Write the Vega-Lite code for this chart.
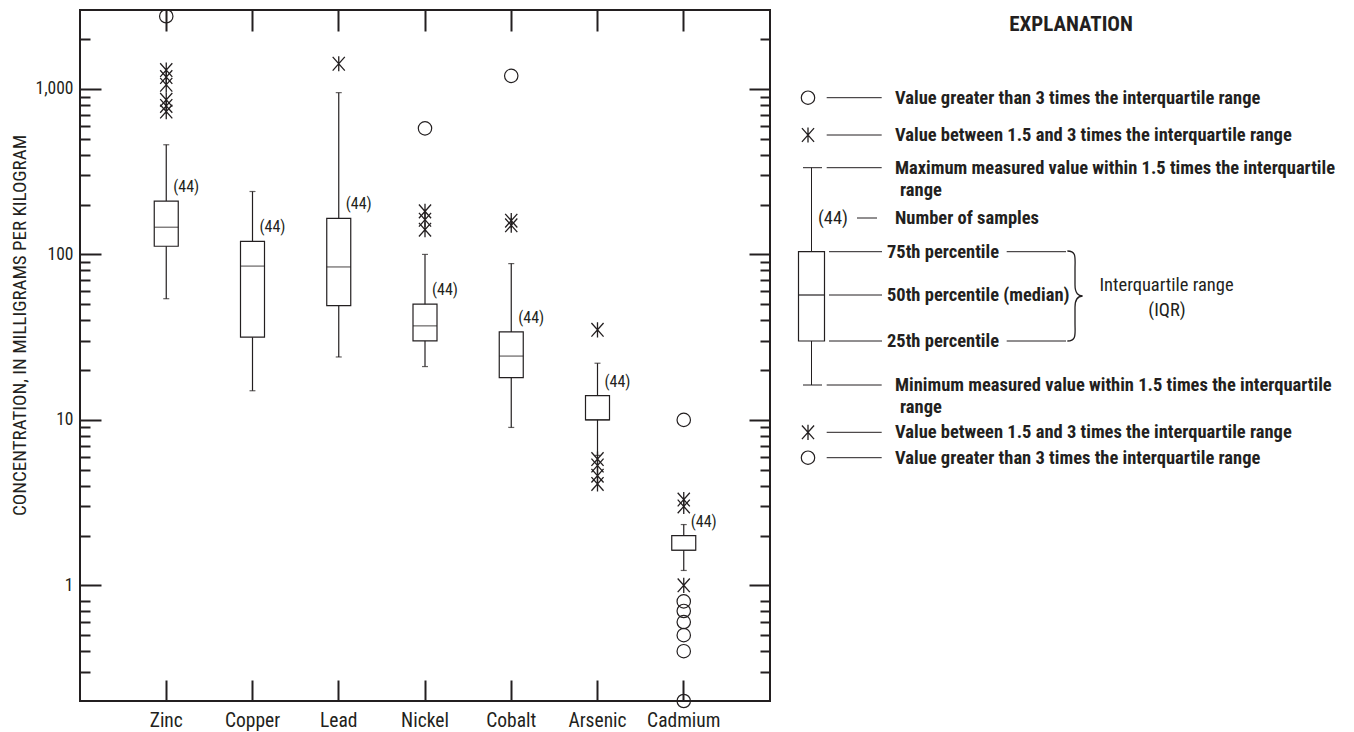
{
  "$schema": "https://vega.github.io/schema/vega-lite/v6.json",
  "width": 690,
  "height": 691,
  "autosize": "none",
  "padding": {"left": 80, "top": 10, "right": 584, "bottom": 31},
  "background": "white",
  "config": {
    "view": {"stroke": "#231f20", "strokeWidth": 2},
    "font": "Liberation Sans Narrow, Roboto Condensed, Arial Narrow, sans-serif"
  },
  "datasets": {
    "boxes": [
      {"metal": "Zinc", "lo": 54, "q1": 112, "med": 146, "q3": 210, "hi": 460, "n": "(44)"},
      {"metal": "Copper", "lo": 15, "q1": 31.6, "med": 85, "q3": 120, "hi": 240, "n": "(44)"},
      {"metal": "Lead", "lo": 24, "q1": 49, "med": 84, "q3": 165, "hi": 950, "n": "(44)"},
      {"metal": "Nickel", "lo": 21, "q1": 30, "med": 37, "q3": 50, "hi": 100, "n": "(44)"},
      {"metal": "Cobalt", "lo": 9, "q1": 18, "med": 24.3, "q3": 34, "hi": 88, "n": "(44)"},
      {"metal": "Arsenic", "lo": 6.1, "q1": 10, "med": 10, "q3": 14, "hi": 22, "n": "(44)"},
      {"metal": "Cadmium", "lo": 1.23, "q1": 1.63, "med": 1.63, "q3": 2.0, "hi": 2.33, "n": "(44)"}
    ],
    "outliers": [
      {"metal": "Zinc", "value": 2750, "kind": "far"},
      {"metal": "Zinc", "value": 1300, "kind": "near"},
      {"metal": "Zinc", "value": 1180, "kind": "near"},
      {"metal": "Zinc", "value": 1060, "kind": "near"},
      {"metal": "Zinc", "value": 860, "kind": "near"},
      {"metal": "Zinc", "value": 790, "kind": "near"},
      {"metal": "Zinc", "value": 730, "kind": "near"},
      {"metal": "Lead", "value": 1420, "kind": "near"},
      {"metal": "Nickel", "value": 578, "kind": "far"},
      {"metal": "Nickel", "value": 182, "kind": "near"},
      {"metal": "Nickel", "value": 162, "kind": "near"},
      {"metal": "Nickel", "value": 141, "kind": "near"},
      {"metal": "Cobalt", "value": 1200, "kind": "far"},
      {"metal": "Cobalt", "value": 160, "kind": "near"},
      {"metal": "Cobalt", "value": 150, "kind": "near"},
      {"metal": "Arsenic", "value": 35, "kind": "near"},
      {"metal": "Arsenic", "value": 5.8, "kind": "near"},
      {"metal": "Arsenic", "value": 5.3, "kind": "near"},
      {"metal": "Arsenic", "value": 4.6, "kind": "near"},
      {"metal": "Arsenic", "value": 4.1, "kind": "near"},
      {"metal": "Cadmium", "value": 10, "kind": "far"},
      {"metal": "Cadmium", "value": 3.3, "kind": "near"},
      {"metal": "Cadmium", "value": 3.0, "kind": "near"},
      {"metal": "Cadmium", "value": 1.0, "kind": "near"},
      {"metal": "Cadmium", "value": 0.8, "kind": "far"},
      {"metal": "Cadmium", "value": 0.7, "kind": "far"},
      {"metal": "Cadmium", "value": 0.6, "kind": "far"},
      {"metal": "Cadmium", "value": 0.5, "kind": "far"},
      {"metal": "Cadmium", "value": 0.4, "kind": "far"},
      {"metal": "Cadmium", "value": 0.2, "kind": "far"}
    ],
    "legendLines": [
      {"x": 746.7, "x2": 801.7, "y": 87.7, "y2": 87.7},
      {"x": 746.7, "x2": 801.7, "y": 125, "y2": 125},
      {"x": 746.7, "x2": 801.7, "y": 157.7, "y2": 157.7},
      {"x": 723, "x2": 742, "y": 157.7, "y2": 157.7},
      {"x": 731.5, "x2": 731.5, "y": 157.7, "y2": 241.7},
      {"x": 777, "x2": 797, "y": 208, "y2": 208},
      {"x": 749, "x2": 802, "y": 241.7, "y2": 241.7},
      {"x": 749, "x2": 802, "y": 285, "y2": 285},
      {"x": 749, "x2": 802, "y": 331, "y2": 331},
      {"x": 731.5, "x2": 731.5, "y": 331, "y2": 375},
      {"x": 723, "x2": 742, "y": 375, "y2": 375},
      {"x": 746.7, "x2": 801.7, "y": 375, "y2": 375},
      {"x": 746.7, "x2": 801.7, "y": 422.3, "y2": 422.3},
      {"x": 746.7, "x2": 801.7, "y": 447.7, "y2": 447.7},
      {"x": 926.7, "x2": 986, "y": 241.7, "y2": 241.7},
      {"x": 926.7, "x2": 986, "y": 331, "y2": 331}
    ],
    "legendBox": [
      {"x": 718.5, "x2": 744.5, "y": 241.7, "y2": 331, "ym": 285}
    ],
    "legendSymbols": [
      {"x": 728, "y": 87.7, "kind": "far"},
      {"x": 728, "y": 125, "kind": "near"},
      {"x": 728, "y": 422.3, "kind": "near"},
      {"x": 728, "y": 447.7, "kind": "far"},
      {"x": 995, "y": 286, "kind": "brace"}
    ],
    "legendText": [
      {"x": 815, "y": 87.7, "t": "Value greater than 3 times the interquartile range"},
      {"x": 815, "y": 125, "t": "Value between 1.5 and 3 times the interquartile range"},
      {"x": 815, "y": 157.7, "t": "Maximum measured value within 1.5 times the interquartile"},
      {"x": 820, "y": 180, "t": "range"},
      {"x": 815, "y": 208, "t": "Number of samples"},
      {"x": 807, "y": 241.7, "t": "75th percentile"},
      {"x": 807, "y": 285, "t": "50th percentile (median)"},
      {"x": 807, "y": 331, "t": "25th percentile"},
      {"x": 815, "y": 375, "t": "Minimum measured value within 1.5 times the interquartile"},
      {"x": 820, "y": 396.7, "t": "range"},
      {"x": 815, "y": 422.3, "t": "Value between 1.5 and 3 times the interquartile range"},
      {"x": 815, "y": 447.7, "t": "Value greater than 3 times the interquartile range"}
    ],
    "legendPlain": [
      {"x": 753, "y": 208, "t": "(44)"},
      {"x": 1086.5, "y": 275, "t": "Interquartile range"},
      {"x": 1087, "y": 300, "t": "(IQR)"}
    ],
    "legendTitle": [
      {"x": 991, "y": 15, "t": "EXPLANATION"}
    ]
  },
  "layer": [
    {
      "layer": [
        {
          "data": {"name": "boxes"},
          "mark": {"type": "rule", "color": "#231f20", "strokeWidth": 1.2},
          "encoding": {
            "x": {
              "field": "metal", "type": "nominal",
              "scale": {"domain": ["Zinc", "Copper", "Lead", "Nickel", "Cobalt", "Arsenic", "Cadmium"], "paddingInner": 0, "paddingOuter": 0.5},
              "axis": {"orient": "bottom", "ticks": false, "domain": false, "grid": false, "labelAngle": 0, "labelFontSize": 19.5, "labelPadding": 10, "labelBaseline": "top", "labelColor": "#231f20", "title": null}
            },
            "y": {
              "field": "lo", "type": "quantitative",
              "scale": {"type": "log", "domain": [0.2, 3000], "nice": false},
              "axis": {"orient": "left", "values": [1, 10, 100, 1000], "format": ",", "ticks": false, "domain": false, "grid": false, "labelPadding": 7, "labelFontSize": 17.5, "labelColor": "#231f20", "title": "CONCENTRATION, IN MILLIGRAMS PER KILOGRAM", "titleFontSize": 19, "titleFontWeight": "normal", "titleColor": "#231f20", "titleX": -61, "titleY": 315, "titleBaseline": "middle", "titleAlign": "center", "titleAngle": 270}
            },
            "y2": {"field": "hi"}
          }
        },
        {
          "data": {"name": "boxes"},
          "mark": {"type": "bar", "size": 24, "fill": "white", "stroke": "#231f20", "strokeWidth": 1.2},
          "encoding": {
            "x": {"field": "metal", "type": "nominal", "axis": {"orient": "bottom", "labels": false, "domain": false, "grid": false, "tickSize": -21, "tickWidth": 2, "tickColor": "#231f20", "title": null}},
            "y": {"field": "q1", "type": "quantitative", "axis": {"orient": "left", "values": [1, 10, 100, 1000], "labels": false, "domain": false, "grid": false, "tickSize": -21, "tickWidth": 2, "tickColor": "#231f20", "title": null}},
            "y2": {"field": "q3"}
          }
        },
        {
          "data": {"name": "boxes"},
          "mark": {"type": "tick", "size": 24, "thickness": 1.2, "color": "#231f20"},
          "encoding": {
            "x": {"field": "metal", "type": "nominal", "axis": {"orient": "top", "labels": false, "domain": false, "grid": false, "tickSize": -21, "tickWidth": 2, "tickColor": "#231f20", "title": null}},
            "y": {"field": "med", "type": "quantitative", "axis": {"orient": "left", "values": [0.3, 0.4, 0.5, 0.6, 0.7, 0.8, 2, 3, 4, 5, 6, 7, 8, 9, 20, 30, 40, 50, 60, 70, 80, 90, 200, 300, 400, 500, 600, 700, 800, 900, 2000], "labels": false, "domain": false, "grid": false, "tickSize": -10, "tickWidth": 2, "tickColor": "#231f20", "title": null}}
          }
        },
        {
          "data": {"name": "boxes"},
          "mark": {"type": "tick", "size": 6, "thickness": 1.2, "color": "#231f20"},
          "encoding": {
            "x": {"field": "metal", "type": "nominal", "axis": null},
            "y": {"field": "hi", "type": "quantitative", "axis": {"orient": "right", "values": [1, 10, 100, 1000], "labels": false, "domain": false, "grid": false, "tickSize": -21, "tickWidth": 2, "tickColor": "#231f20", "title": null}}
          }
        },
        {
          "data": {"name": "boxes"},
          "mark": {"type": "tick", "size": 6, "thickness": 1.2, "color": "#231f20"},
          "encoding": {
            "x": {"field": "metal", "type": "nominal", "axis": null},
            "y": {"field": "lo", "type": "quantitative", "axis": {"orient": "right", "values": [0.3, 0.4, 0.5, 0.6, 0.7, 0.8, 2, 3, 4, 5, 6, 7, 8, 9, 20, 30, 40, 50, 60, 70, 80, 90, 200, 300, 400, 500, 600, 700, 800, 900, 2000], "labels": false, "domain": false, "grid": false, "tickSize": -10, "tickWidth": 2, "tickColor": "#231f20", "title": null}}
          }
        },
        {
          "data": {"name": "outliers"},
          "transform": [{"filter": "datum.kind === 'far'"}],
          "mark": {"type": "point", "shape": "circle", "filled": false, "size": 180, "stroke": "#231f20", "strokeWidth": 1.2, "opacity": 1},
          "encoding": {
            "x": {"field": "metal", "type": "nominal", "axis": null},
            "y": {"field": "value", "type": "quantitative", "axis": null}
          }
        },
        {
          "data": {"name": "outliers"},
          "transform": [{"filter": "datum.kind === 'near'"}],
          "mark": {"type": "point", "shape": "M-0.8,-0.9L0.8,0.9M0.8,-0.9L-0.8,0.9M0,-1L0,1", "filled": false, "size": 230, "stroke": "#231f20", "strokeWidth": 1.3, "opacity": 1},
          "encoding": {
            "x": {"field": "metal", "type": "nominal", "axis": null},
            "y": {"field": "value", "type": "quantitative", "axis": null}
          }
        },
        {
          "data": {"name": "boxes"},
          "mark": {"type": "text", "align": "left", "baseline": "middle", "dx": 7, "dy": -14, "fontSize": 16, "color": "#231f20"},
          "encoding": {
            "x": {"field": "metal", "type": "nominal", "axis": null},
            "y": {"field": "q3", "type": "quantitative", "axis": null},
            "text": {"field": "n"}
          }
        }
      ],
      "resolve": {"axis": {"x": "independent", "y": "independent"}}
    },
    {
      "layer": [
        {
          "data": {"name": "legendLines"},
          "mark": {"type": "rule", "color": "#231f20", "strokeWidth": 1},
          "encoding": {
            "x": {"field": "x", "type": "quantitative", "scale": {"domain": [0, 690], "nice": false, "zero": false}, "axis": null},
            "x2": {"field": "x2"},
            "y": {"field": "y", "type": "quantitative", "scale": {"domain": [0, 691], "nice": false, "zero": false, "reverse": true}, "axis": null},
            "y2": {"field": "y2"}
          }
        },
        {
          "data": {"name": "legendBox"},
          "mark": {"type": "rect", "fill": "white", "stroke": "#231f20", "strokeWidth": 1.2},
          "encoding": {
            "x": {"field": "x", "type": "quantitative", "axis": null},
            "x2": {"field": "x2"},
            "y": {"field": "y", "type": "quantitative", "axis": null},
            "y2": {"field": "y2"}
          }
        },
        {
          "data": {"name": "legendBox"},
          "mark": {"type": "rule", "color": "#231f20", "strokeWidth": 1.2},
          "encoding": {
            "x": {"field": "x", "type": "quantitative", "axis": null},
            "x2": {"field": "x2"},
            "y": {"field": "ym", "type": "quantitative", "axis": null}
          }
        },
        {
          "data": {"name": "legendSymbols"},
          "transform": [{"filter": "datum.kind === 'far'"}],
          "mark": {"type": "point", "shape": "circle", "filled": false, "size": 180, "stroke": "#231f20", "strokeWidth": 1.2, "opacity": 1},
          "encoding": {
            "x": {"field": "x", "type": "quantitative", "axis": null},
            "y": {"field": "y", "type": "quantitative", "axis": null}
          }
        },
        {
          "data": {"name": "legendSymbols"},
          "transform": [{"filter": "datum.kind === 'near'"}],
          "mark": {"type": "point", "shape": "M-0.8,-0.9L0.8,0.9M0.8,-0.9L-0.8,0.9M0,-1L0,1", "filled": false, "size": 230, "stroke": "#231f20", "strokeWidth": 1.3, "opacity": 1},
          "encoding": {
            "x": {"field": "x", "type": "quantitative", "axis": null},
            "y": {"field": "y", "type": "quantitative", "axis": null}
          }
        },
        {
          "data": {"name": "legendSymbols"},
          "transform": [{"filter": "datum.kind === 'brace'"}],
          "mark": {"type": "point", "shape": "M-0.17,-1C0.04,-1,0,-0.85,0,-0.6L0,-0.25C0,-0.05,0.08,0,0.17,0C0.08,0,0,0.05,0,0.25L0,0.6C0,0.85,0.04,1,-0.17,1", "filled": false, "size": 8100, "stroke": "#231f20", "strokeWidth": 1.3, "opacity": 1},
          "encoding": {
            "x": {"field": "x", "type": "quantitative", "axis": null},
            "y": {"field": "y", "type": "quantitative", "axis": null}
          }
        },
        {
          "data": {"name": "legendText"},
          "mark": {"type": "text", "align": "left", "baseline": "middle", "fontSize": 18.5, "fontWeight": "bold", "color": "#231f20"},
          "encoding": {
            "x": {"field": "x", "type": "quantitative", "axis": null},
            "y": {"field": "y", "type": "quantitative", "axis": null},
            "text": {"field": "t"}
          }
        },
        {
          "data": {"name": "legendPlain"},
          "mark": {"type": "text", "align": "center", "baseline": "middle", "fontSize": 18.5, "color": "#231f20"},
          "encoding": {
            "x": {"field": "x", "type": "quantitative", "axis": null},
            "y": {"field": "y", "type": "quantitative", "axis": null},
            "text": {"field": "t"}
          }
        },
        {
          "data": {"name": "legendTitle"},
          "mark": {"type": "text", "align": "center", "baseline": "middle", "fontSize": 21, "fontWeight": "bold", "color": "#231f20"},
          "encoding": {
            "x": {"field": "x", "type": "quantitative", "axis": null},
            "y": {"field": "y", "type": "quantitative", "axis": null},
            "text": {"field": "t"}
          }
        }
      ]
    }
  ],
  "resolve": {"scale": {"x": "independent", "y": "independent"}, "axis": {"x": "independent", "y": "independent"}}
}
